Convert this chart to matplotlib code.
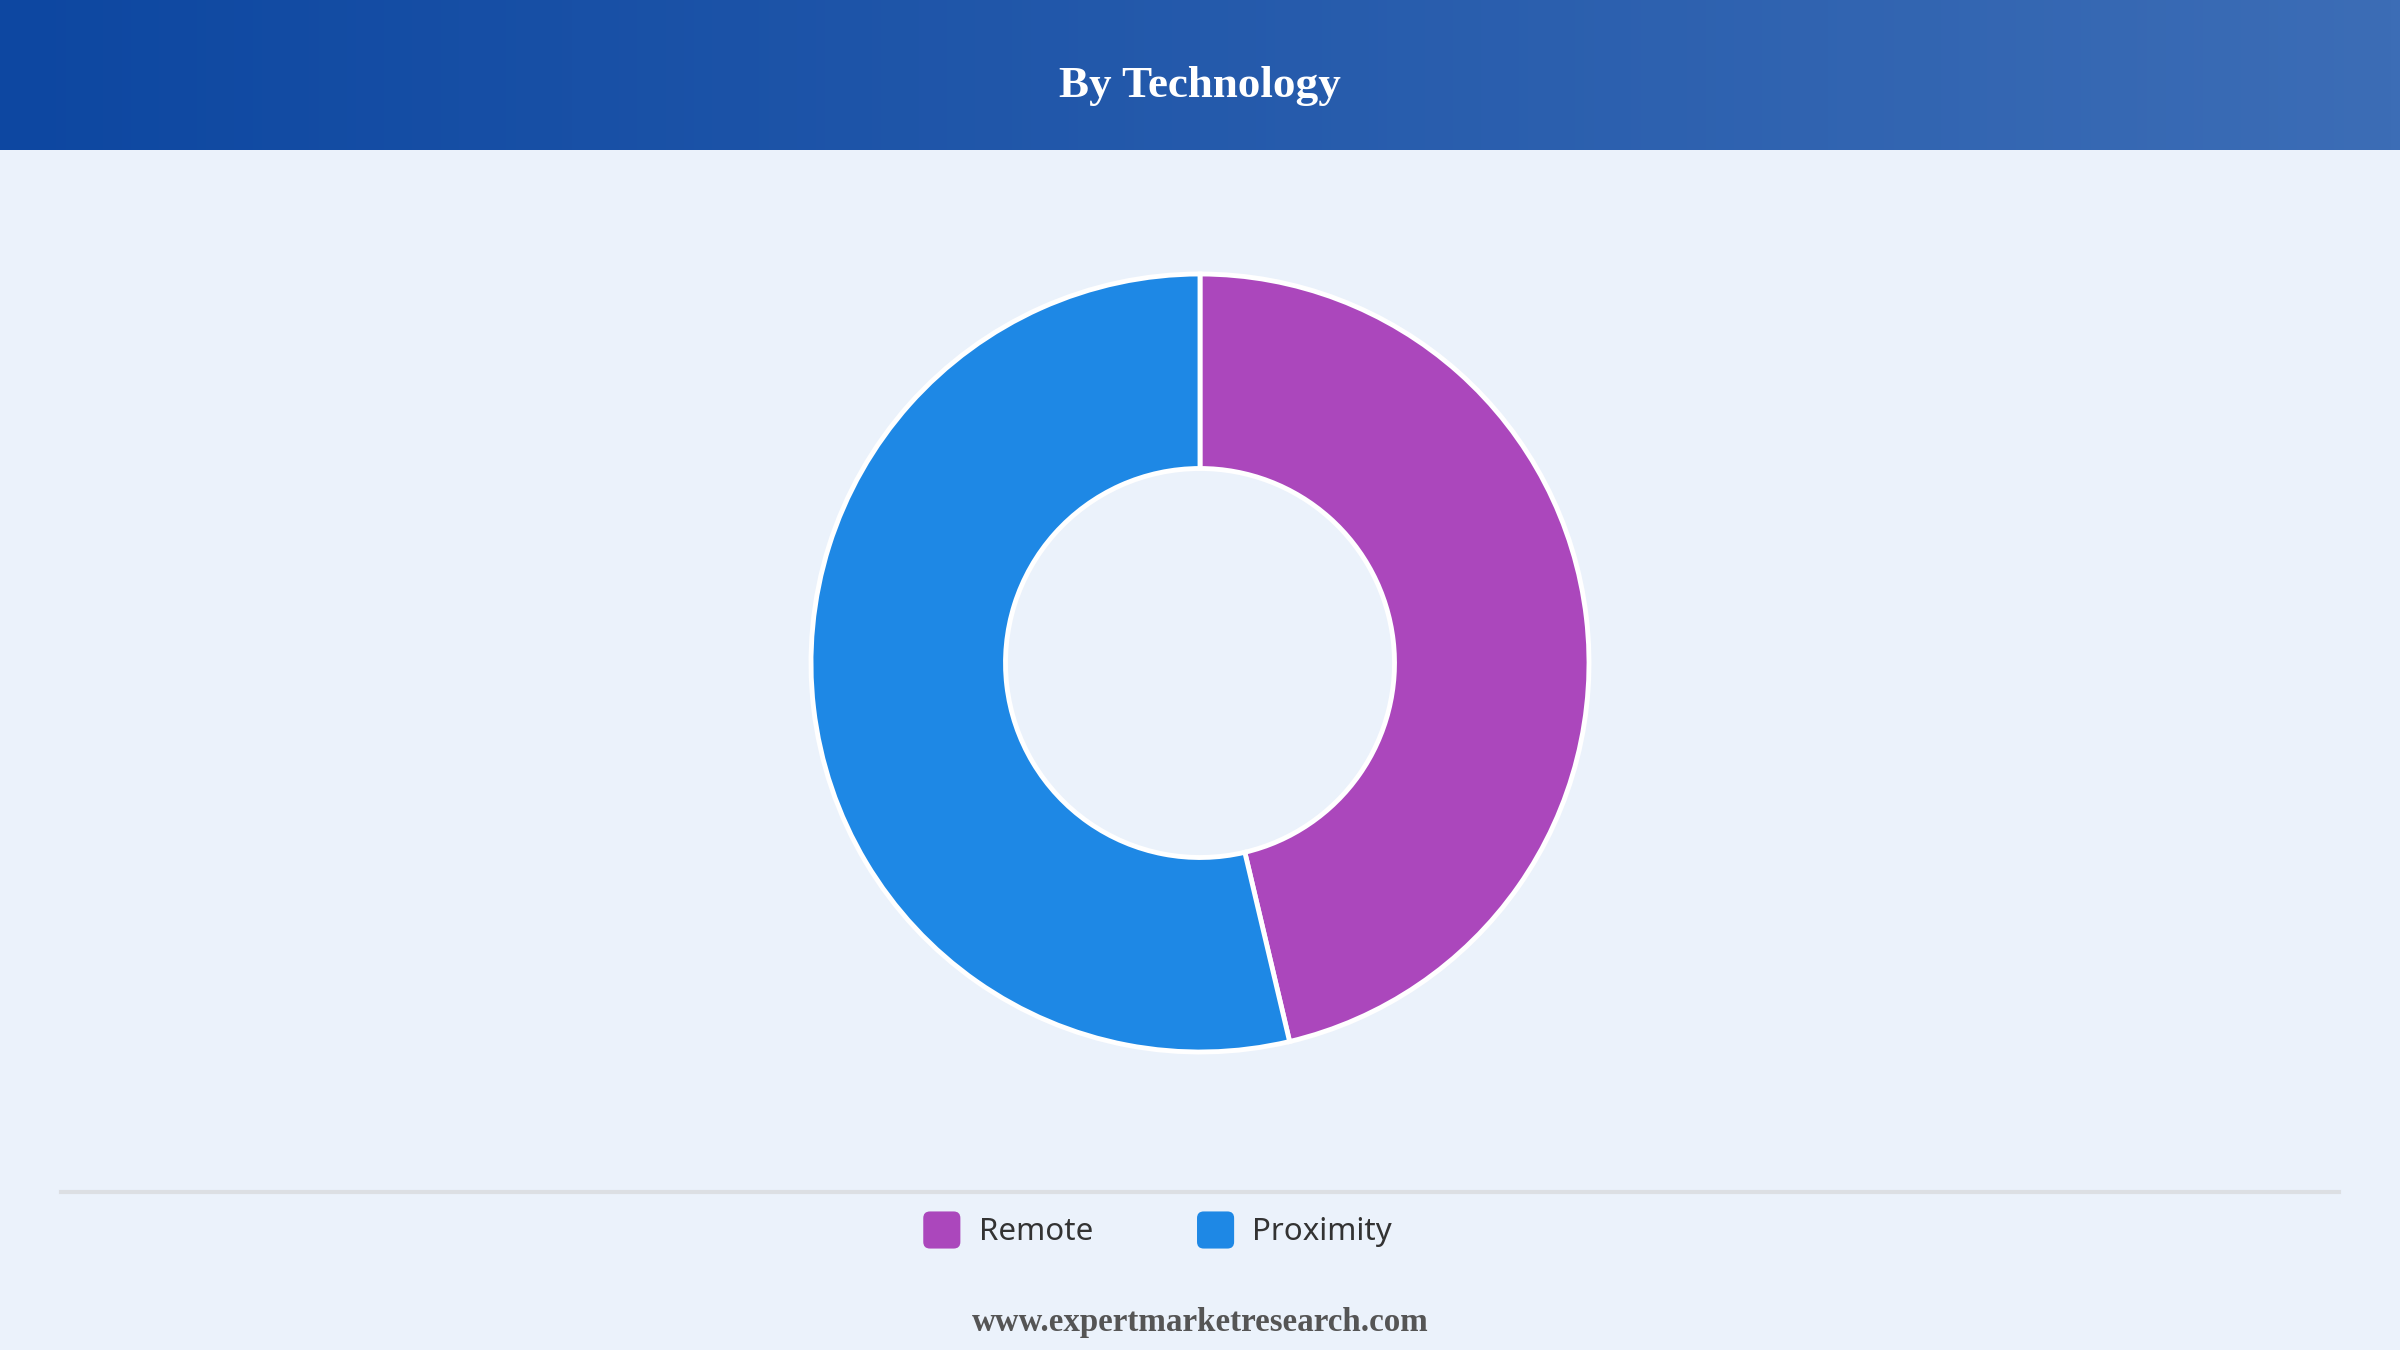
import numpy as np
import matplotlib
matplotlib.use("Agg")
from matplotlib import pyplot as plt
from matplotlib.patches import FancyBboxPatch, Patch
from matplotlib.legend_handler import HandlerPatch

# data
categories = ["Remote", "Proximity"]
shares = [46.3, 53.7]
colors = ["#AB47BC", "#1E88E5"]
title = "By Technology"
footer = "www.expertmarketresearch.com"

W, H, DPI = 2400, 1350, 100
BG = "#EBF2FB"


class RoundBox(HandlerPatch):
    def create_artists(self, legend, orig, xdescent, ydescent, width, height, fontsize, trans):
        s = min(width, height)
        x0 = -xdescent + (width - s) / 2
        y0 = -ydescent + (height - s) / 2
        p = FancyBboxPatch((x0, y0), s, s, boxstyle="round,pad=0,rounding_size=%f" % (s * 0.18),
                           facecolor=orig.get_facecolor(), edgecolor="none", transform=trans)
        return [p]


fig = plt.figure(figsize=(W / DPI, H / DPI), dpi=DPI, facecolor=BG)

# header band with horizontal gradient
hdr_h = 150 / H
hax = fig.add_axes([0, 1 - hdr_h, 1, hdr_h])
grad = np.linspace(0, 1, 256).reshape(1, -1)
cmap = matplotlib.colors.LinearSegmentedColormap.from_list("hdr", ["#0D47A1", "#3C6DB6"])
hax.imshow(grad, aspect="auto", cmap=cmap, extent=[0, 1, 0, 1])
hax.set_axis_off()
hax.text(0.5, 0.43, title, ha="center", va="center", color="white",
         fontsize=32.5, fontweight="bold", family="Liberation Serif", transform=hax.transAxes)

# donut
cx, cy, r = 1200, 663, 389
lim = 1.02
half = r * lim
ax = fig.add_axes([(cx - half) / W, (H - cy - half) / H, 2 * half / W, 2 * half / H])
ax.set_facecolor("none")
ax.pie(shares, colors=colors, startangle=90, counterclock=False, radius=1,
       wedgeprops=dict(width=0.5, edgecolor="white", linewidth=3.5))
ax.set_xlim(-lim, lim)
ax.set_ylim(-lim, lim)
ax.set_aspect("equal")
ax.set_axis_off()

# separator line
fig.add_artist(plt.Line2D([61 / W, 2339 / W], [1 - 1192 / H] * 2, color="#DCDFE3", linewidth=3))

# legend
handles = [Patch(facecolor=c, label=l) for c, l in zip(colors, categories)]
leg = fig.legend(handles=handles, loc="center", bbox_to_anchor=(0.4815, 1 - 1230 / H), ncol=2,
                 frameon=False, handler_map={Patch: RoundBox()}, handlelength=1.45, handleheight=1.45,
                 handletextpad=0.45, columnspacing=3.2, prop={"family": "Noto Sans", "size": 22.5})
for t in leg.get_texts():
    t.set_color("#333333")

# footer
fig.text(0.5, 1 - 1323 / H, footer, ha="center", va="center", color="#555555",
         fontsize=23.8, fontweight="bold", family="Liberation Serif")

fig.savefig("out.png", dpi=DPI, facecolor=BG)
